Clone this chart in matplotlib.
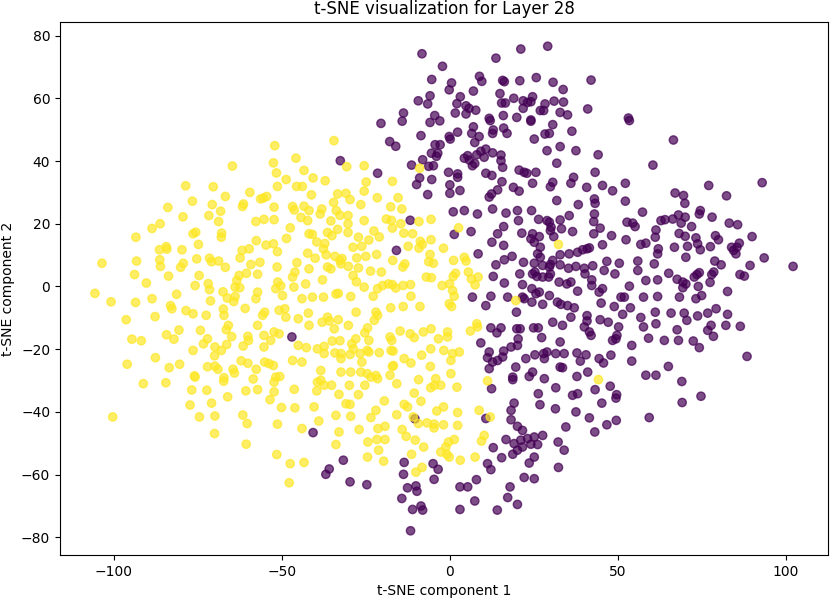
import numpy as np
import matplotlib
matplotlib.use("Agg")
import matplotlib.pyplot as plt

# t-SNE coordinates, class 1 (yellow)
yellow_pts = [
    (-64.7, 38.4), (-78.6, 32.1), (-70.4, 31.8), (-59.5, 30.0), (-66.8, 28.7), (-56.3, 27.9), (-76.6, 27.2),
    (-70.7, 26.1), (-61.4, 26.3), (-61.7, 25.5), (-83.9, 25.2), (-68.2, 24.0), (-71.7, 22.6), (-79.4, 22.2),
    (-57.7, 20.7), (-68.8, 20.7), (-86.2, 20.0), (-88.6, 18.5), (-75.6, 17.3), (-76.4, 16.8), (-67.9, 17.0),
    (-68.0, 15.7), (-93.4, 15.7), (-57.6, 14.6), (-74.8, 13.4), (-84.4, 12.7), (-86.4, 11.7), (-84.2, 11.9),
    (-79.7, 11.7), (-61.8, 11.5), (-59.7, 12.0), (-62.4, 9.1), (-103.5, 7.4), (-93.2, 8.1), (-86.3, 8.5),
    (-86.1, 6.4), (-75.3, 8.8), (-71.5, 9.0), (-70.9, 7.9), (-68.8, 8.1), (-79.3, 7.4), (-80.1, 6.1),
    (-66.8, 6.1), (-59.2, 7.0), (-56.5, 7.7), (-93.8, 3.8), (-74.6, 3.5), (-83.7, 3.3), (-62.7, 3.5),
    (-60.5, 4.2), (-57.2, 3.9), (-63.4, 1.9), (-63.9, -0.2), (-62.5, -0.4), (-90.3, 1.1), (-71.9, 0.9),
    (-71.5, -1.0), (-75.8, 0.3), (-105.6, -2.2), (-100.8, -4.9), (-93.5, -5.1), (-88.6, -3.9), (-81.3, -2.5),
    (-67.5, -1.7), (-71.2, -4.6), (-63.9, -3.2), (-64.3, -4.8), (-66.2, -3.7), (-57.2, -1.8), (-57.7, -3.9),
    (-60.9, -7.0), (-83.1, -6.1), (-82.7, -7.1), (-78.5, -7.7), (-76.4, -8.7), (-72.5, -9.2), (-67.4, -7.2),
    (-67.2, -9.2), (-87.7, -9.6), (-96.3, -10.6),
    (-94.6, -16.8), (-91.8, -17.3), (-84.3, -15.4), (-82.1, -16.8), (-80.6, -13.9), (-74.2, -14.0),
    (-65.9, -12.4), (-66.5, -13.8), (-64.9, -16.0), (-72.1, -16.7), (-73.3, -18.3), (-69.9, -19.3),
    (-68.0, -20.4), (-66.4, -18.5), (-70.0, -22.1), (-61.5, -19.0), (-60.1, -15.9), (-59.9, -17.2),
    (-57.2, -12.4), (-76.4, -20.4), (-87.6, -22.7), (-96.0, -24.8), (-83.5, -25.9), (-80.4, -24.8),
    (-72.1, -25.6), (-69.9, -25.4), (-69.0, -26.4), (-62.1, -23.7), (-60.1, -24.5), (-57.6, -26.4),
    (-64.5, -26.4), (-64.1, -27.6), (-76.0, -28.5), (-75.8, -28.9), (-67.2, -29.1), (-67.3, -30.2),
    (-58.5, -29.5), (-91.2, -31.0), (-84.5, -30.7), (-76.8, -33.0), (-72.3, -33.1), (-60.7, -33.3),
    (-57.2, -32.9), (-66.1, -35.2), (-77.3, -37.8), (-70.9, -37.2), (-100.3, -41.6), (-74.5, -41.6),
    (-69.9, -41.3), (-61.6, -41.0), (-60.3, -43.7), (-70.0, -46.9), (-60.6, -50.3),
    (-52.1, 44.9), (-34.5, 46.5), (-45.8, 40.9), (-52.5, 39.4), (-30.7, 38.2), (-25.5, 38.5), (-43.4, 37.0),
    (-51.6, 36.2), (-40.7, 34.6), (-48.7, 34.1), (-37.1, 33.7), (-24.9, 33.3), (-17.1, 33.5), (-9.0, 37.7),
    (-45.6, 31.9), (-43.9, 31.9), (-51.3, 31.9), (-25.5, 30.4), (-41.2, 29.2), (-33.4, 29.5), (-30.9, 29.7),
    (-21.6, 28.3), (-15.4, 28.3), (-55.5, 28.2), (-54.5, 28.7), (-29.7, 27.7), (-34.6, 26.8), (-26.5, 26.1),
    (-52.3, 25.3), (-46.8, 25.5), (-46.3, 24.4), (-43.4, 25.6), (-41.9, 24.2), (-38.1, 24.7), (-38.6, 23.1),
    (-33.8, 24.2), (-32.7, 22.7), (-17.6, 25.4), (-14.3, 24.7), (-55.3, 21.4), (-52.3, 21.3), (-44.3, 22.0),
    (-42.3, 21.0), (-35.4, 20.9), (-30.3, 22.6), (-25.5, 21.0), (-18.9, 21.5), (-17.4, 21.1), (-14.6, 20.0),
    (-9.2, 20.7), (-5.6, 21.4), (2.6, 18.7), (-47.5, 18.7), (-30.3, 20.0), (-33.4, 18.2), (-17.1, 18.6),
    (-41.9, 16.8), (-40.9, 16.6), (-36.4, 17.2), (-30.3, 17.2), (-22.6, 17.7), (-13.7, 17.0), (-11.1, 16.8),
    (-48.6, 15.3), (-27.2, 15.7), (-24.1, 14.8), (-21.0, 15.8), (-39.6, 14.2), (-37.2, 13.7), (-35.1, 16.2),
    (-54.7, 13.2), (-52.5, 13.6), (-8.8, 14.4), (-8.2, 13.4), (-9.2, 12.2), (-5.6, 14.9), (-12.4, 12.8),
    (-1.9, 12.2), (-28.8, 12.5), (-26.2, 12.8), (-51.3, 11.1), (-42.3, 10.6), (-37.6, 12.0), (-36.8, 10.1),
    (-34.2, 9.6), (-32.1, 8.9), (-40.1, 9.0), (-27.7, 9.1), (-25.0, 9.6), (-21.8, 10.2), (-17.0, 8.3),
    (-5.9, 10.2), (-6.3, 7.9), (-4.9, 7.4), (1.1, 8.3), (-51.4, 6.2), (-45.5, 7.6), (-41.9, 5.6),
    (-36.4, 6.2), (-35.4, 5.6), (-32.7, 8.3), (-32.4, 7.2), (-30.2, 6.4), (-27.2, 5.9), (-23.6, 4.9),
    (-20.4, 4.6), (-14.0, 6.2), (-13.4, 7.2), (-46.8, 3.0), (-46.1, 4.6), (-37.9, 2.1), (-28.8, 3.5),
    (-27.8, 1.5), (-42.9, 0.8), (-46.4, -0.2), (-51.2, 1.4), (-50.3, 0.2), (-51.8, -0.7), (-25.5, -0.2),
    (-21.5, -0.7), (-20.0, 0.3), (-18.3, 0.8), (-17.1, 0.6), (-16.1, -0.5), (-13.9, 0.3), (-11.7, 0.6),
    (-7.0, 3.0), (-5.5, 2.8), (-2.3, 0.3), (-0.1, 0.8), (1.0, 3.2), (1.7, 4.2), (-40.9, -3.4), (-37.6, -3.4),
    (-33.9, -2.4), (-33.2, -2.2), (-29.5, -3.2), (-22.8, -3.1), (-49.8, -2.9), (-44.0, -3.9), (-11.6, -3.1),
    (0.8, -1.3), (1.3, -3.1),
    (-55.7, -9.2), (-55.1, -8.2), (-50.8, -7.6), (-49.1, -7.1), (-48.8, -9.8), (-45.1, -10.3), (-42.1, -8.5),
    (-41.9, -12.4), (-38.0, -11.4), (-36.4, -9.8), (-35.9, -11.0), (-33.2, -10.6), (-34.4, -13.5),
    (-30.2, -12.4), (-27.9, -8.2), (-22.0, -8.2), (-21.5, -9.2), (-22.5, -10.8), (-17.6, -6.8), (-13.9, -6.4),
    (-8.9, -6.4), (-0.2, -5.5), (0.5, -6.4), (-24.5, -13.2), (-25.3, -14.8), (-28.0, -16.7), (-55.3, -15.6),
    (-52.3, -14.5), (-50.8, -15.1), (-53.3, -17.2), (-55.3, -19.3), (-45.1, -18.8), (-42.7, -19.5),
    (-39.4, -19.9), (-37.4, -19.1), (-37.4, -21.4), (-35.0, -17.4), (-32.7, -17.3), (-34.2, -21.2),
    (-32.4, -21.4), (-32.4, -23.0), (-29.2, -18.3), (-28.7, -19.9), (-29.7, -21.7), (-26.7, -21.4),
    (-26.2, -24.1), (-24.1, -17.2), (-24.6, -20.4), (-24.1, -20.9), (-21.0, -21.1), (-17.8, -16.1),
    (-17.3, -17.2), (-17.5, -20.4), (-16.9, -20.6), (-14.8, -14.2), (-11.8, -15.1), (-10.6, -16.3),
    (-7.9, -14.5), (-5.6, -13.5), (-3.4, -16.7), (-0.7, -14.5), (-0.7, -16.1), (-1.8, -20.4), (0.8, -21.4),
    (0.3, -23.6), (2.8, -20.9), (-5.7, -19.9), (-8.4, -21.9), (-13.6, -23.0), (-11.6, -24.4), (-17.1, -25.5),
    (-16.8, -25.2), (-5.8, -25.5), (-55.1, -24.1), (-53.8, -24.6), (-52.5, -25.2), (-46.8, -23.6),
    (-44.0, -24.1), (-38.4, -26.8), (-32.4, -27.3), (-29.5, -27.3), (-26.5, -27.3), (-24.6, -27.8),
    (-23.5, -28.9), (-21.5, -29.4), (-22.0, -28.4), (-17.8, -28.3), (-15.8, -31.0), (-9.3, -29.7),
    (-10.6, -34.0), (-4.2, -29.4), (-5.7, -32.3), (-4.6, -31.5), (-2.7, -31.5), (0.3, -27.8), (2.1, -32.1),
    (-51.8, -28.9), (-50.6, -28.7), (-52.3, -30.5), (-39.4, -30.5), (-38.4, -29.9), (-37.4, -31.5),
    (-35.2, -31.5), (-29.9, -31.5), (-25.3, -31.5), (-52.3, -33.6), (-53.5, -36.1), (-46.3, -32.8),
    (-39.6, -33.3), (-33.0, -34.4), (-27.2, -34.5), (-8.6, -36.6), (-19.5, -36.5), (-50.1, -38.6),
    (-46.1, -38.7), (-40.4, -38.4), (-30.9, -37.4), (-29.7, -37.6), (-22.0, -39.5), (-13.6, -37.6),
    (-12.6, -38.4), (-3.9, -39.7), (-1.9, -38.4), (2.3, -40.2), (-33.9, -41.1), (-29.5, -41.4),
    (-23.5, -41.8), (-15.8, -40.9), (-10.9, -41.6), (-6.8, -43.5), (-4.7, -43.9), (-4.7, -45.1),
    (-1.9, -44.1), (-9.4, -43.7), (2.3, -44.3), (-51.3, -43.9), (-44.0, -45.3), (-39.0, -42.9),
    (-33.0, -46.4), (-27.0, -45.6), (-21.4, -45.3), (-19.3, -44.6), (-14.2, -45.6), (-13.0, -47.8),
    (-21.7, -48.8), (-19.3, -48.8), (-24.4, -49.6), (-33.9, -50.4), (-10.3, -49.0), (-7.8, -51.2),
    (-21.2, -52.2), (-2.7, -52.8), (-1.2, -51.2), (-0.4, -49.6), (-0.9, -53.5), (-0.2, -54.4), (1.3, -48.8),
    (-11.4, -53.5), (-51.5, -53.6), (-24.5, -54.4), (-19.7, -55.7), (-43.4, -56.1), (-47.5, -56.5),
    (-8.3, -57.7), (-10.1, -59.2), (-47.8, -62.6), (3.1, -55.4),
    (32.3, 13.4), (4.3, 9.3), (4.8, 8.1), (5.5, 4.6), (6.4, 2.4), (8.4, 3.0), (7.5, 0.5), (19.6, -4.5),
    (8.0, -11.9), (6.1, -14.2), (8.2, -12.9), (11.2, -30.1), (8.7, -39.5), (12.0, -41.6), (10.2, -47.5),
    (9.4, -49.3), (7.5, -54.4), (44.2, -29.7),
]

# class 0 (purple)
purple_pts = [
    (-20.5, 52.0), (-14.2, 52.7), (-5.9, 52.3), (-3.0, 52.8), (-17.9, 46.2), (-16.1, 44.7), (-8.6, 48.1),
    (-0.2, 47.8), (0.1, 47.0), (2.3, 49.2), (-4.4, 45.2), (-2.9, 45.2), (-5.5, 42.5), (-3.6, 42.5),
    (-4.0, 41.5), (-32.6, 40.1), (-11.4, 38.7), (-8.1, 40.4), (-6.3, 38.3), (-4.9, 38.5), (-21.5, 36.1),
    (-0.4, 36.4), (2.3, 35.9), (2.3, 34.8), (-9.0, 34.6), (-9.9, 32.5), (-5.4, 34.1), (0.0, 32.4),
    (-6.6, 29.3), (0.0, 29.7), (3.0, 30.6), (1.0, 23.8), (-11.8, 21.1), (1.3, 16.6), (-15.9, 11.5),
    (-47.0, -16.1), (-40.7, -46.6), (-31.7, -55.4), (-35.9, -58.2), (-36.9, -59.9), (-29.7, -62.3),
    (-24.7, -63.2), (-13.6, -56.1), (-13.8, -59.9), (-5.0, -56.5), (-3.5, -58.3), (-4.7, -61.5),
    (-12.6, -64.2), (-10.1, -63.6), (3.0, -63.9), (-10.4, -42.2),
    (-8.3, 74.2), (21.1, 75.7), (13.7, 72.8), (-2.2, 70.2), (-5.4, 66.0), (0.5, 64.9), (-0.2, 62.7),
    (8.8, 67.0), (9.5, 65.4), (15.7, 65.7), (16.2, 65.3), (20.8, 65.6), (25.7, 66.6), (7.0, 62.3),
    (14.9, 61.5), (15.4, 58.5), (16.5, 58.5), (19.0, 60.0), (21.8, 59.2), (23.1, 58.7), (24.6, 60.5),
    (24.1, 58.9), (21.8, 56.8), (26.9, 56.1), (-5.9, 60.8), (-6.6, 58.2), (-9.4, 59.2), (3.1, 60.5),
    (2.1, 58.3), (4.8, 57.6), (5.7, 56.8), (7.7, 56.2), (4.8, 55.0), (1.6, 55.3), (-13.8, 55.3),
    (-4.5, 54.5), (11.7, 53.6), (15.9, 54.5), (19.9, 53.9), (24.1, 53.1),
    (29.1, 76.6), (42.0, 65.8), (30.7, 65.1), (33.7, 62.8), (31.0, 59.1), (33.8, 58.8), (28.3, 58.2),
    (27.9, 56.1), (32.8, 55.5), (35.0, 54.7), (41.0, 56.6), (53.1, 53.7),
    (7.0, 50.9), (6.5, 48.8), (8.7, 47.8), (7.4, 45.9), (12.0, 52.9), (12.9, 49.9), (12.7, 48.8),
    (16.0, 50.5), (17.0, 48.8), (24.1, 52.7), (30.6, 51.6), (29.6, 48.8), (28.3, 48.6), (36.3, 49.5),
    (53.4, 52.9), (25.1, 47.0), (32.8, 44.6), (28.9, 43.3), (37.5, 43.3), (44.1, 42.0), (60.4, 38.7),
    (5.3, 41.7), (4.3, 40.9), (5.8, 40.3), (8.0, 42.0), (9.2, 43.1), (10.7, 43.8), (12.7, 42.6),
    (10.2, 41.2), (6.7, 38.5), (7.4, 39.2), (15.2, 41.9), (15.2, 40.1), (15.7, 38.0), (10.7, 36.1),
    (12.5, 35.4), (15.5, 33.4), (20.6, 37.1), (22.1, 36.4), (22.9, 36.1), (25.6, 36.4), (31.8, 39.3),
    (43.2, 36.4), (36.8, 34.8), (24.6, 32.9), (30.6, 33.2), (29.9, 31.8), (36.0, 32.9), (40.7, 31.6),
    (45.4, 32.2), (52.2, 32.9), (48.4, 30.5), (18.9, 31.6), (20.6, 30.4), (14.2, 30.8), (12.4, 29.5),
    (11.7, 28.5), (31.8, 27.4), (43.0, 27.9), (43.2, 26.5), (38.2, 26.1), (52.2, 27.2), (4.3, 24.2),
    (8.2, 23.1), (12.7, 24.7), (16.7, 23.4), (20.1, 24.2), (24.3, 24.2), (35.5, 22.6), (43.0, 23.1),
    (42.8, 20.7), (57.3, 23.7), (20.4, 21.0), (26.4, 21.4), (28.9, 21.0), (29.6, 20.5), (32.8, 21.2),
    (33.2, 18.4), (30.1, 18.9), (29.9, 17.8), (6.3, 17.5), (16.0, 19.1), (14.2, 16.8), (21.4, 17.0),
    (24.6, 16.8), (26.6, 15.9), (30.9, 15.9), (36.5, 17.5), (42.8, 16.8), (44.7, 18.6), (48.1, 16.2),
    (52.7, 20.5), (54.4, 20.2), (55.1, 19.1), (61.3, 18.0), (61.1, 15.7), (52.4, 14.9), (56.8, 13.4),
    (58.3, 13.8), (61.8, 10.4), (62.0, 12.0), (12.5, 14.1), (16.0, 13.1), (24.1, 15.2), (25.1, 14.1),
    (26.9, 12.5), (26.1, 10.4), (26.9, 9.3), (35.5, 10.4), (38.0, 10.9), (39.5, 11.7), (40.8, 12.0),
    (41.5, 12.3), (45.4, 13.3), (32.8, 10.1), (30.6, 8.3), (29.9, 7.0), (29.6, 6.2), (27.6, 6.7),
    (25.1, 7.4), (25.3, 4.6), (21.9, 7.7), (18.5, 9.6), (16.2, 8.5), (13.7, 6.9), (8.4, 10.4),
    (32.8, 6.9), (35.3, 5.8), (37.5, 6.4), (40.0, 5.8), (40.2, 4.0), (42.5, 6.6), (46.7, 8.0),
    (45.9, 5.1), (49.1, 4.0), (50.4, 7.4), (55.9, 8.1), (55.9, 5.1), (60.8, 7.2), (58.3, 1.9),
    (61.8, 2.1), (12.9, 3.2), (16.2, 1.1), (20.8, 4.0), (24.6, 4.0), (25.9, 3.2), (29.9, 4.0),
    (29.4, 3.0), (27.6, 3.0), (21.6, 0.6), (24.4, -0.7), (26.6, -1.8), (29.6, -2.9), (32.5, 1.4),
    (34.8, 0.8), (36.0, 1.4), (38.0, -1.5), (42.2, 0.3), (42.2, 2.1), (44.4, -1.8), (45.4, -0.7),
    (53.4, 0.1), (6.7, -3.4), (12.2, -3.1), (17.2, -3.4), (21.6, -3.4), (22.1, -3.9), (25.6, -2.3),
    (50.9, -3.4), (51.9, -3.4), (57.6, -3.4), (61.8, -3.2),
    (10.7, -6.1), (24.4, -5.0), (27.6, -5.7), (32.0, -5.0), (33.0, -5.7), (35.0, -6.1), (37.0, -6.8),
    (45.0, -5.3), (48.9, -6.4), (53.7, -6.8), (19.8, -8.2), (36.0, -9.8), (40.8, -9.3), (40.8, -11.0),
    (40.0, -12.9), (41.5, -14.5), (42.0, -15.6), (44.7, -10.6), (47.1, -11.4), (51.4, -8.9), (50.2, -12.9),
    (49.7, -15.6), (48.4, -17.2), (49.4, -16.7), (56.8, -9.9), (57.6, -12.9), (61.1, -8.2), (61.3, -11.9),
    (59.1, -16.5), (54.1, -18.8), (54.1, -23.8), (58.3, -28.3), (61.3, -28.3), (59.3, -41.8),
    (12.2, -13.2), (14.0, -14.8), (15.2, -13.2), (19.9, -13.5), (20.9, -13.5), (24.9, -13.2),
    (26.3, -13.2), (30.6, -11.4), (33.5, -12.4), (27.3, -16.3), (20.3, -16.7), (20.1, -18.8),
    (18.2, -19.3), (9.2, -18.0), (32.8, -17.7), (11.7, -20.9), (11.2, -22.7), (12.7, -24.1),
    (14.2, -23.6), (16.0, -20.6), (15.7, -22.5), (22.6, -23.0), (25.3, -21.8), (27.9, -21.4),
    (28.9, -20.9), (28.1, -23.0), (31.5, -21.4), (34.0, -21.4), (37.8, -21.2), (40.5, -21.8),
    (38.8, -23.8), (44.4, -23.0), (45.7, -24.4), (47.9, -21.9), (11.7, -26.2), (19.6, -25.7),
    (24.6, -27.3), (23.6, -28.7), (32.8, -25.7), (33.5, -25.9), (18.7, -28.9), (18.7, -29.7),
    (28.1, -29.4), (37.8, -28.7), (41.0, -27.3), (12.4, -32.6), (31.5, -32.3), (36.5, -34.7),
    (38.0, -34.2), (43.2, -32.9), (47.7, -31.8), (49.6, -34.5), (49.4, -35.6), (26.3, -34.2),
    (45.2, -37.2), (19.1, -37.2), (26.8, -37.7), (18.2, -39.5), (31.4, -39.0), (37.5, -40.0),
    (10.7, -42.1), (18.2, -42.5), (41.5, -41.9), (49.5, -42.7), (46.7, -44.1), (20.1, -44.6),
    (21.6, -45.9), (34.5, -44.8), (43.1, -46.4), (27.6, -47.5), (25.1, -48.0), (23.1, -48.5),
    (24.1, -50.3), (26.1, -50.4), (32.2, -49.6), (21.1, -49.0), (21.6, -51.2), (20.1, -52.2),
    (19.1, -50.1), (16.7, -48.8), (12.9, -51.4), (34.0, -52.2), (18.7, -53.5), (15.4, -54.6),
    (25.1, -54.4), (23.6, -56.3), (11.2, -56.5), (12.2, -58.4), (32.3, -57.7), (7.9, -61.6),
    (22.1, -60.9), (25.1, -61.3), (17.9, -63.9), (5.3, -63.9),
    (66.5, 46.7), (77.0, 32.2), (92.9, 33.1), (67.0, 29.8), (69.5, 29.0), (69.9, 26.5), (82.3, 28.9),
    (74.5, 24.2), (74.2, 23.1), (78.0, 22.1), (62.8, 21.0), (64.0, 21.3), (66.3, 21.5), (68.0, 22.8),
    (70.0, 22.1), (68.8, 20.2), (71.9, 19.1), (83.1, 20.2), (85.6, 19.7), (68.2, 16.9), (70.0, 16.0),
    (73.2, 15.5), (73.7, 13.6), (74.5, 11.7), (79.0, 16.2), (79.9, 14.9), (89.9, 15.9), (66.8, 12.5),
    (70.7, 12.8), (77.5, 12.7), (83.8, 12.5), (84.4, 11.5), (85.4, 12.5), (86.1, 13.8), (85.1, 10.4),
    (70.2, 9.3), (93.5, 9.1), (102.1, 6.4), (78.8, 8.1), (80.7, 6.9), (89.3, 6.7), (65.1, 4.2),
    (73.5, 3.8), (72.7, 3.0), (74.2, 4.4), (78.5, 4.6), (77.9, 3.8), (86.3, 3.8), (87.6, 3.3),
    (67.6, 2.3), (69.3, 1.4), (70.2, 0.8), (69.3, -0.4), (73.9, 0.0), (77.4, 1.3), (82.6, -1.6),
    (68.3, -3.4), (73.2, -3.9), (74.9, -2.9),
    (65.8, -8.5), (69.7, -8.5), (70.5, -10.8), (73.7, -9.4), (76.7, -8.5), (79.2, -7.1), (82.6, -8.9),
    (77.7, -12.4), (76.7, -14.0), (78.4, -15.9), (82.1, -12.4), (86.4, -12.7), (67.6, -13.8),
    (63.8, -17.2), (68.0, -17.2), (72.4, -17.4), (74.2, -19.5), (88.4, -22.3), (65.0, -25.5),
    (69.0, -30.3), (74.7, -35.0), (69.1, -37.0),
    (-9.8, -65.3), (-14.3, -67.6), (-8.6, -70.0), (-11.1, -71.1), (-8.1, -71.3), (-11.7, -77.9),
    (3.0, -71.1), (7.4, -68.4), (17.2, -67.3), (20.1, -69.5), (14.1, -71.3),
]

title = "t-SNE visualization for Layer 28"
xlabel = "t-SNE component 1"
ylabel = "t-SNE component 2"

purple = np.array(purple_pts)
yellow = np.array(yellow_pts)
coords = np.vstack([purple, yellow])
labels = np.concatenate([np.zeros(len(purple)), np.ones(len(yellow))])

fig = plt.figure(figsize=(8.3, 5.99), dpi=100)
ax = fig.add_axes([60 / 830, 1 - 555 / 599, 768 / 830, 533 / 599])
ax.scatter(coords[:, 0], coords[:, 1], c=labels, cmap="viridis", alpha=0.7)
ax.set_title(title)
ax.set_xlabel(xlabel)
ax.set_ylabel(ylabel)

fig.savefig("out.png", dpi=100)
